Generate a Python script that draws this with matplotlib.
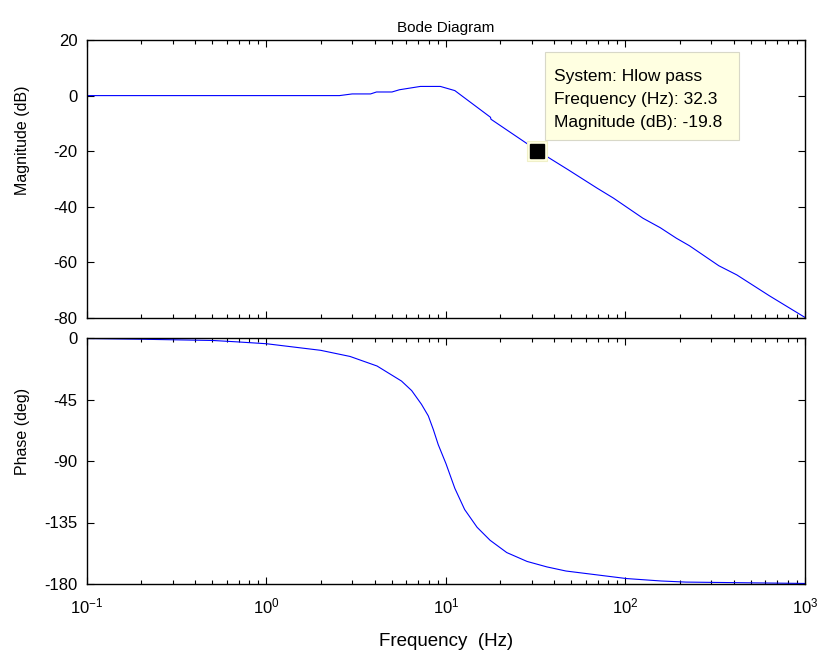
import matplotlib
matplotlib.use("Agg")
import matplotlib.pyplot as plt
from matplotlib.patches import Rectangle
from matplotlib.ticker import LogLocator, NullFormatter, FixedLocator

plt.rcParams['font.family'] = ['Liberation Sans', 'DejaVu Sans']
plt.rcParams['mathtext.fontset'] = 'custom'
plt.rcParams['mathtext.rm'] = 'Liberation Sans'
plt.rcParams['mathtext.it'] = 'Liberation Sans'
plt.rcParams['axes.unicode_minus'] = False

# Magnitude response (Hz, dB)
mag_freq = [0.1, 1.0, 2.55, 3.0, 3.8, 4.1, 5.0, 5.5, 7.2, 9.3, 11.2, 17.7, 17.8,
            32.3, 48.0, 69.5, 85.8, 125.0, 156.0, 192.0, 227.0, 331.0, 417.0, 633.0, 1000.0]
mag_db = [0.0, 0.0, 0.0, 0.6, 0.6, 1.3, 1.3, 2.1, 3.3, 3.3, 1.8, -7.8, -8.5,
          -19.8, -26.7, -33.3, -36.9, -44.1, -47.5, -51.3, -54.0, -61.2, -64.5, -72.0, -79.8]

# Phase response (Hz, deg)
ph_freq = [0.1, 0.2, 0.5, 0.68, 1.0, 2.0, 2.92, 4.13, 5.65, 6.44, 7.3, 7.97, 8.5, 9.05,
           10.0, 11.2, 12.7, 14.9, 17.6, 21.8, 28.3, 36.5, 46.6, 101.0, 158.0, 217.0, 1000.0]
ph_deg = [-0.4, -0.9, -1.8, -2.8, -4.2, -9.0, -13.5, -20.5, -31.5, -38.5, -48.5, -57.0, -67.0, -78.0,
          -92.0, -110.0, -125.5, -138.5, -148.0, -157.0, -163.5, -167.5, -170.5, -176.0, -177.8, -178.6, -179.6]

# Data tip
tip_system = "Hlow pass"
tip_freq = 32.3
tip_mag = -19.8

x_ticks = [0.1, 1, 10, 100, 1000]
x_labels = [r'$10^{-1}$', r'$10^{0}$', r'$10^{1}$', r'$10^{2}$', r'$10^{3}$']
mag_ticks = [20, 0, -20, -40, -60, -80]
ph_ticks = [0, -45, -90, -135, -180]

W, H = 820, 658
fig = plt.figure(figsize=(W / 100, H / 100), dpi=100)
left, right = 87, 805
ax1 = fig.add_axes([left / W, 1 - 318 / H, (right - left) / W, (318 - 40) / H])
ax2 = fig.add_axes([left / W, 1 - 584 / H, (right - left) / W, (584 - 338) / H])

line_color = (0, 0, 1)
ax1.plot(mag_freq, mag_db, color=line_color, lw=0.8)
ax2.plot(ph_freq, ph_deg, color=line_color, lw=0.8)

for ax in (ax1, ax2):
    ax.set_xscale('log')
    ax.set_xlim(0.1, 1000)
    ax.xaxis.set_major_locator(FixedLocator(x_ticks))
    ax.xaxis.set_minor_locator(LogLocator(base=10, subs=range(2, 10), numticks=20))
    ax.xaxis.set_minor_formatter(NullFormatter())
    ax.tick_params(which='both', direction='in', top=True, right=True, colors='black',
                   labelsize=12, width=0.8)
    ax.tick_params(which='major', length=5)
    ax.tick_params(which='minor', length=3)
    ax.tick_params(axis='y', pad=7)
    ax.tick_params(axis='x', pad=9)
    for s in ax.spines.values():
        s.set_linewidth(1.0)
        s.set_color('black')

ax1.set_ylim(-80, 20)
ax1.set_yticks(mag_ticks)
ax1.set_xticklabels([])
ax1.set_ylabel('Magnitude (dB)', fontsize=11.5)
ax1.yaxis.set_label_coords(-0.079, 0.64)
ax1.set_title('Bode Diagram', fontsize=11, pad=6)

ax2.set_ylim(-180, 0)
ax2.set_yticks(ph_ticks)
ax2.set_xticklabels(x_labels)
ax2.set_ylabel('Phase (deg)', fontsize=11.5)
ax2.yaxis.set_label_coords(-0.079, 0.62)
fig.text((left + right) / 2 / W, 1 - 641 / H, 'Frequency  (Hz)', fontsize=13.5,
         ha='center', va='center')

# Data tip marker
ax1.plot([tip_freq], [tip_mag], marker='s', ms=14, mfc='#ffffe1', mec='#f0f0c8', mew=0.8, zorder=5)
ax1.plot([tip_freq], [tip_mag], marker='s', ms=9.5, mfc='black', mec='black', zorder=6)

# Data tip box and text lines (pixel positions converted to figure fraction)
fig.patches.append(Rectangle((545 / W, 1 - 140 / H), (739 - 545) / W, (140 - 52) / H,
                             transform=fig.transFigure, fc='#ffffe1', ec='#d8d8c8',
                             lw=0.8, zorder=7))
tip_lines = [f"System: {tip_system}",
             f"Frequency (Hz): {tip_freq:.1f}",
             f"Magnitude (dB): {tip_mag:.1f}"]
for i, txt in enumerate(tip_lines):
    fig.text(554 / W, 1 - (80.5 + 23.5 * i) / H, txt, fontsize=12.5,
             ha='left', va='baseline', zorder=8)

fig.savefig('out.png', dpi=100)
